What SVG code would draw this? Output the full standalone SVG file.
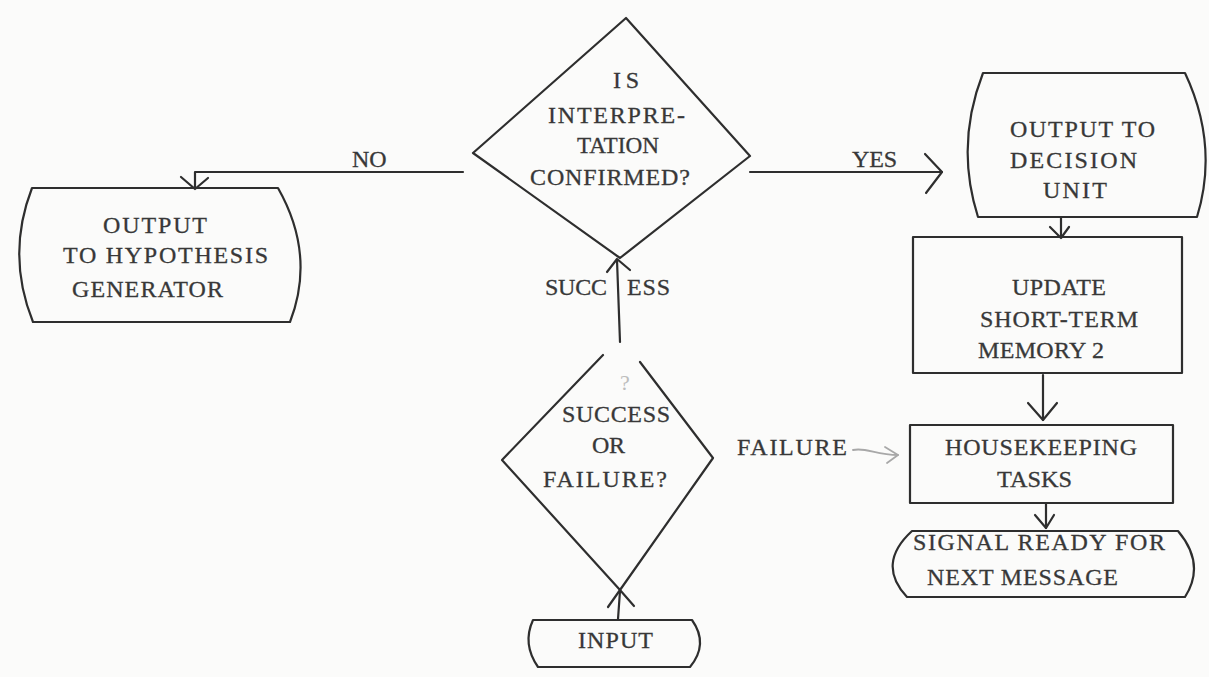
<svg xmlns="http://www.w3.org/2000/svg" width="1209" height="677" viewBox="0 0 1209 677">
  <style>
    .shape { fill: none; stroke: #2e2e2e; stroke-width: 2.2; stroke-linejoin: round; stroke-linecap: round; }
    .wire { fill: none; stroke: #2e2e2e; stroke-width: 2.2; stroke-linecap: round; stroke-linejoin: round; }
    .faint { fill: none; stroke: #a8a8a8; stroke-width: 1.8; stroke-linecap: round; stroke-linejoin: round; }
    text { font-family: "Liberation Serif", "DejaVu Serif", serif; font-size: 24px; fill: #383838; stroke: #383838; stroke-width: 0.3; }
  </style>
  <rect width="1209" height="677" fill="#fbfbfa"/>

  <!-- connectors -->
  <g id="connectors">
    <!-- NO branch to hypothesis generator -->
    <polyline class="wire" points="463,172 195,172 195,188"/>
    <polyline class="wire" points="181,177 195,189 208,178"/>
    <text x="352" y="167">NO</text>
    <!-- YES branch to decision unit -->
    <line class="wire" x1="750" y1="172" x2="942" y2="172"/>
    <polyline class="wire" points="925,154 942,172 926,193"/>
    <text x="852" y="167" textLength="45" lengthAdjust="spacing">YES</text>
    <!-- decision unit to update -->
    <line class="wire" x1="1061" y1="217" x2="1061" y2="237"/>
    <polyline class="wire" points="1050,227 1061,238 1069,227"/>
    <!-- update to housekeeping -->
    <line class="wire" x1="1043" y1="375" x2="1043" y2="420"/>
    <polyline class="wire" points="1028,403 1043,420 1057,403"/>
    <!-- housekeeping to signal -->
    <line class="wire" x1="1046" y1="503" x2="1046" y2="528"/>
    <polyline class="wire" points="1035,515 1046,528 1054,515"/>
    <!-- success path up to the interpretation test -->
    <line class="wire" x1="620" y1="342" x2="617" y2="260"/>
    <polyline class="wire" points="607,272 617,259 630,270"/>
    <text x="545" y="295" textLength="62" lengthAdjust="spacing">SUCC</text>
    <text x="627" y="295" textLength="43" lengthAdjust="spacing">ESS</text>
    <!-- input into success/failure test -->
    <line class="wire" x1="618" y1="619" x2="620" y2="591"/>
    <polyline class="wire" points="608,607 620,590 634,606"/>
    <!-- failure path to housekeeping -->
    <text x="737" y="455" textLength="110" lengthAdjust="spacing">FAILURE</text>
    <path class="faint" d="M853,450 C866,447 876,455 898,455"/>
    <polyline class="faint" points="885,447 898,455 887,463"/>
  </g>

  <!-- decision: interpretation confirmed -->
  <g id="confirmed">
    <polygon class="shape" points="626,18 750,156 620,258 473,153"/>
    <text x="613" y="88" textLength="26" lengthAdjust="spacing">IS</text>
    <text x="548" y="123" textLength="137" lengthAdjust="spacing">INTERPRE-</text>
    <text x="577" y="153" textLength="82" lengthAdjust="spacingAndGlyphs">TATION</text>
    <text x="530" y="185" textLength="160" lengthAdjust="spacing">CONFIRMED?</text>
  </g>

  <!-- terminal: output to hypothesis generator -->
  <g id="hypothesis">
    <path class="shape" d="M32,188 L278,188 Q316,255 290,322 L33,322 Q6,255 32,188 Z"/>
    <text x="103" y="233" textLength="104" lengthAdjust="spacing">OUTPUT</text>
    <text x="63" y="263" textLength="205" lengthAdjust="spacing">TO HYPOTHESIS</text>
    <text x="72" y="297" textLength="151" lengthAdjust="spacing">GENERATOR</text>
  </g>

  <!-- terminal: output to decision unit -->
  <g id="decision-unit">
    <path class="shape" d="M983,73 L1185,73 Q1219,145 1197,217 L978,217 Q955,145 983,73 Z"/>
    <text x="1010" y="137" textLength="145" lengthAdjust="spacing">OUTPUT TO</text>
    <text x="1010" y="168" textLength="127" lengthAdjust="spacing">DECISION</text>
    <text x="1043" y="198" textLength="64" lengthAdjust="spacing">UNIT</text>
  </g>

  <!-- process: update short-term memory -->
  <g id="update">
    <rect class="shape" x="913" y="237" width="269" height="136"/>
    <text x="1012" y="295" textLength="94" lengthAdjust="spacing">UPDATE</text>
    <text x="980" y="327" textLength="158" lengthAdjust="spacing">SHORT-TERM</text>
    <text x="978" y="358" textLength="126" lengthAdjust="spacing">MEMORY 2</text>
  </g>

  <!-- process: housekeeping -->
  <g id="housekeeping">
    <rect class="shape" x="910" y="425" width="263" height="78"/>
    <text x="945" y="455" textLength="192" lengthAdjust="spacing">HOUSEKEEPING</text>
    <text x="997" y="487" textLength="75" lengthAdjust="spacingAndGlyphs">TASKS</text>
  </g>

  <!-- terminal: signal ready -->
  <g id="signal">
    <path class="shape" d="M912,531 L1178,531 Q1206,564 1185,597 L907,597 Q876,564 912,531 Z"/>
    <text x="913" y="550" textLength="252" lengthAdjust="spacing">SIGNAL READY FOR</text>
    <text x="927" y="585" textLength="191" lengthAdjust="spacing">NEXT MESSAGE</text>
  </g>

  <!-- decision: success or failure -->
  <g id="success-failure">
    <polyline class="shape" points="603,355 502,460 620,590 713,458 640,362"/>
    <text x="620" y="390" style="fill:#bdbdbd;stroke:none;font-size:22px">?</text>
    <text x="562" y="422" textLength="108" lengthAdjust="spacing">SUCCESS</text>
    <text x="592" y="453" textLength="33" lengthAdjust="spacing">OR</text>
    <text x="543" y="487" textLength="124" lengthAdjust="spacing">FAILURE?</text>
  </g>

  <!-- terminal: input -->
  <g id="input">
    <path class="shape" d="M533,620 L692,620 Q709,644 690,667 L538,667 Q522,644 533,620 Z"/>
    <text x="578" y="648" textLength="75" lengthAdjust="spacing">INPUT</text>
  </g>
</svg>
